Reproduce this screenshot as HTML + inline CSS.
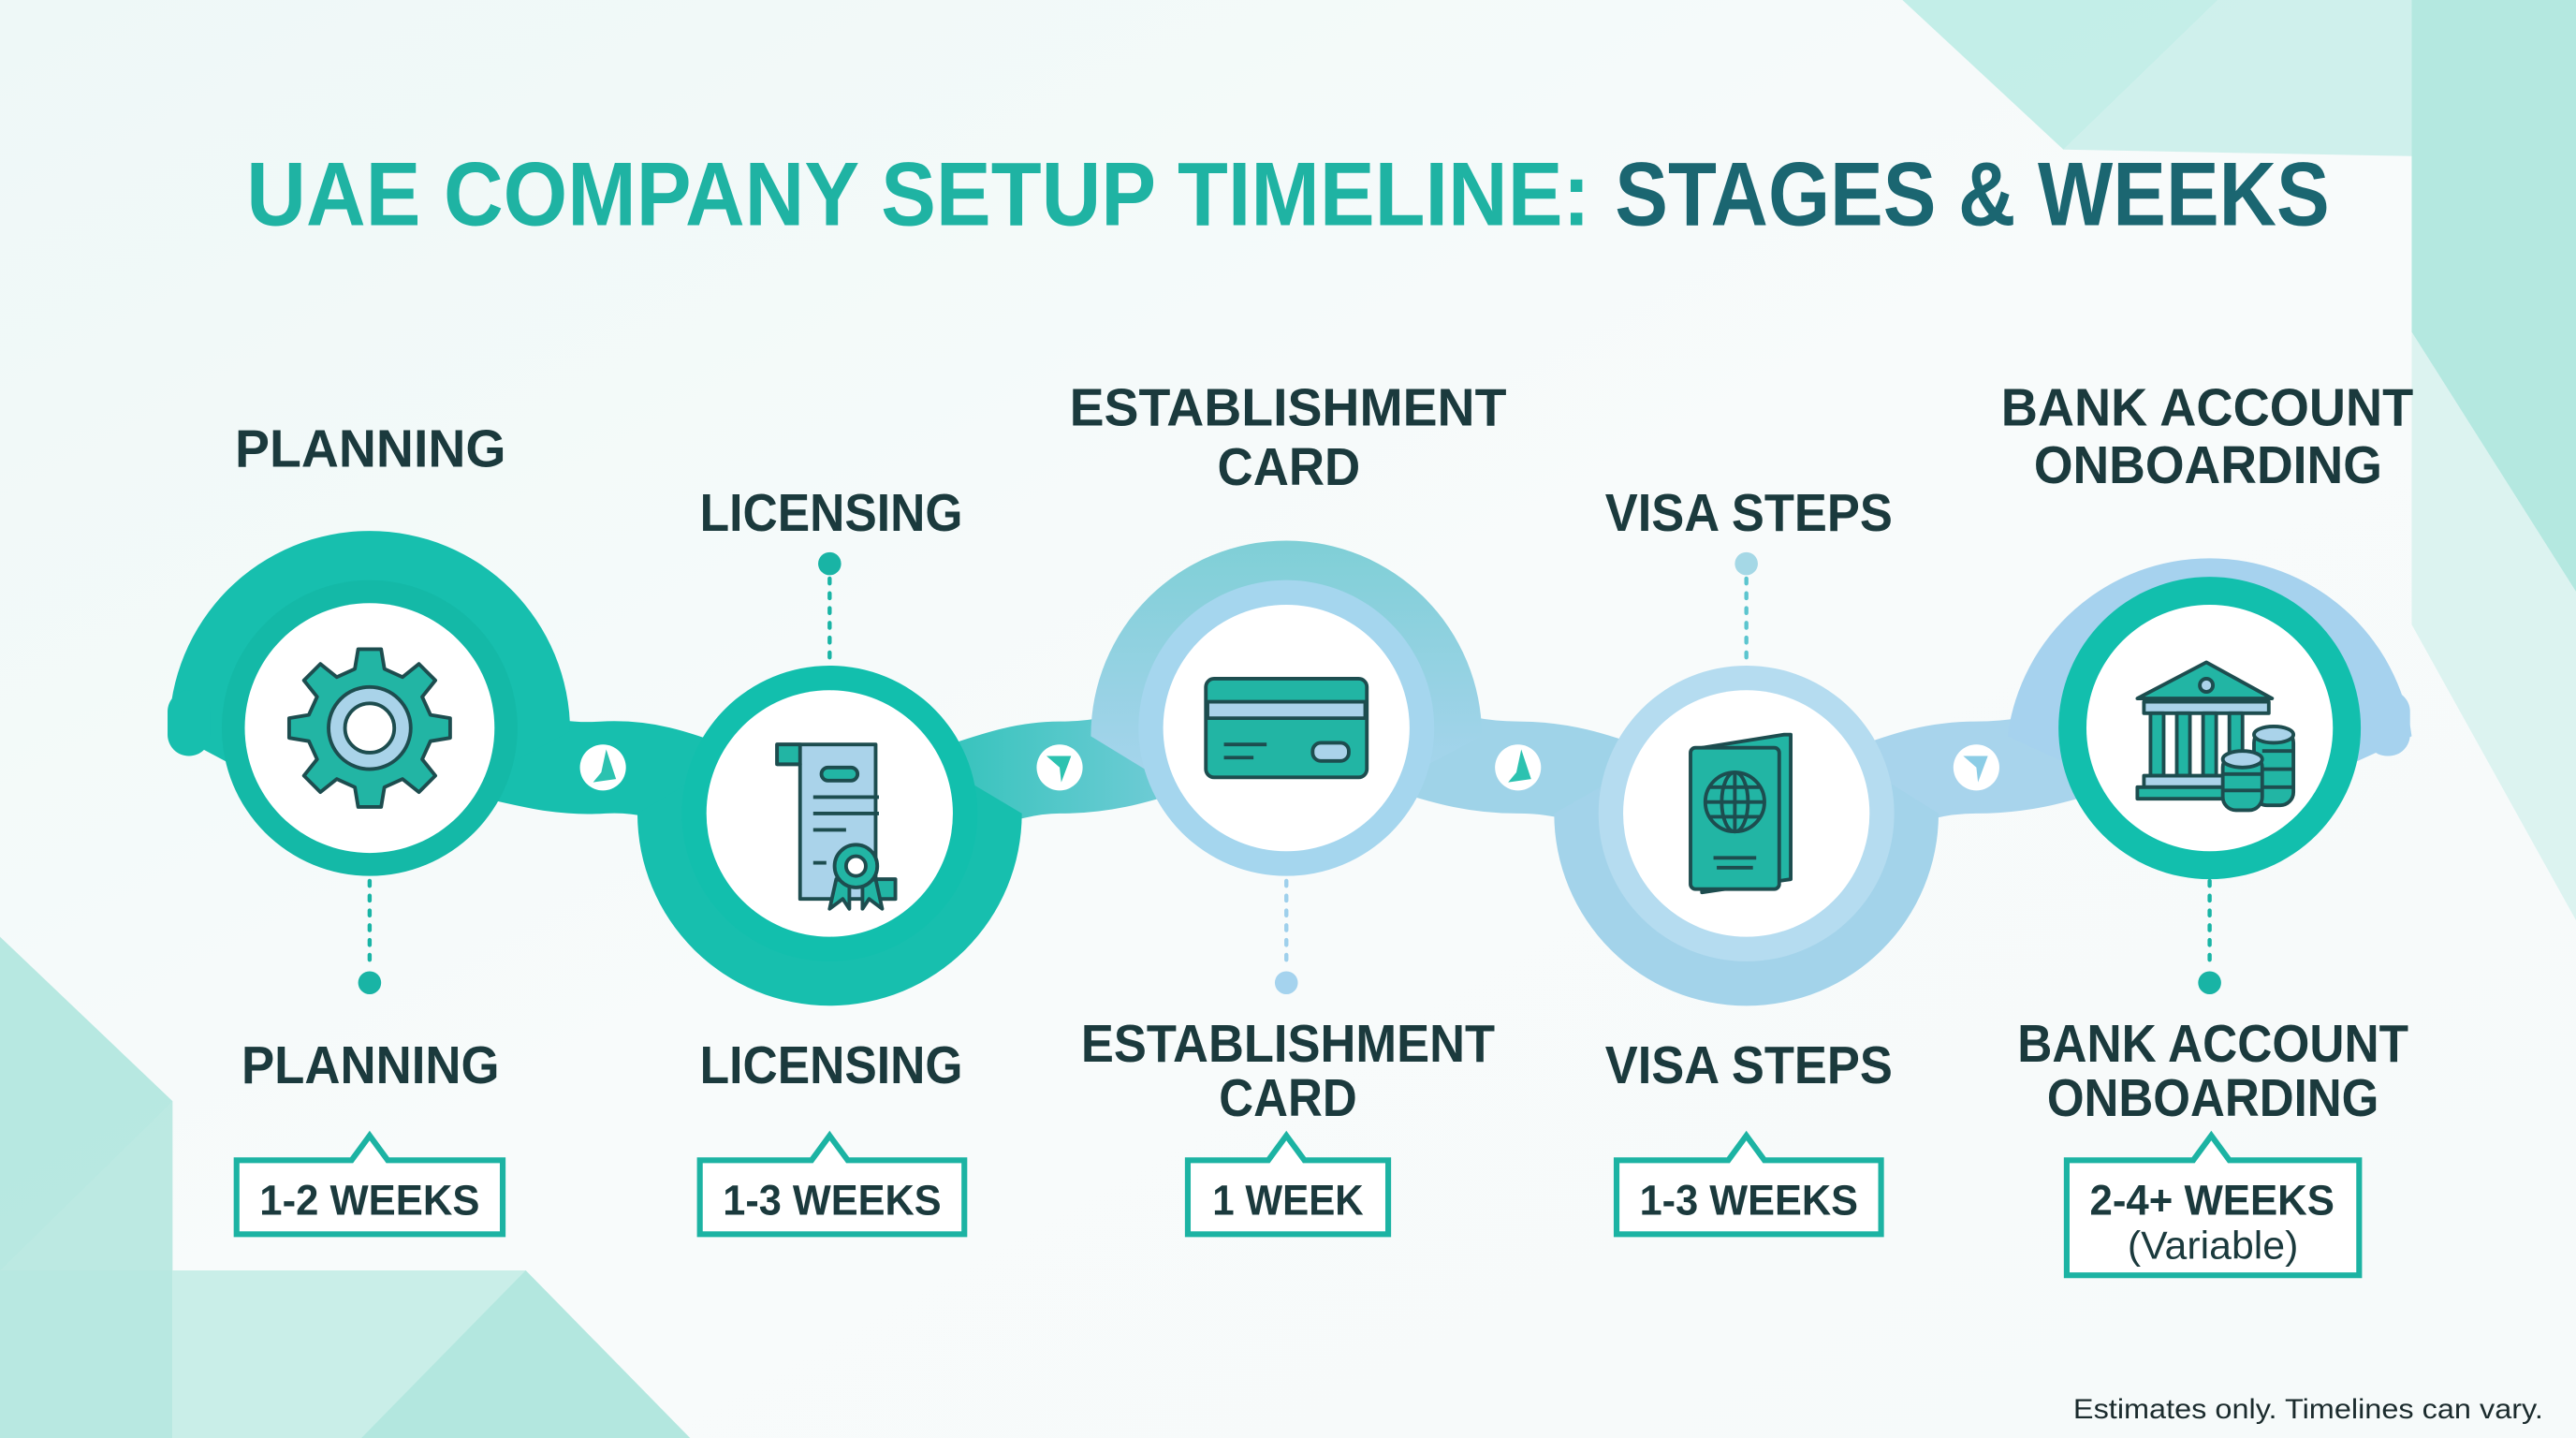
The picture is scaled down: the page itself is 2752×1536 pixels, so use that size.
<!DOCTYPE html>
<html><head><meta charset="utf-8"><style>
html,body{margin:0;padding:0;background:#f4f9f9;}
svg{display:block;}
text{font-family:"Liberation Sans",Arial,sans-serif;font-weight:bold;}
</style></head><body>
<svg width="2752" height="1536" viewBox="0 0 1568 875" preserveAspectRatio="none" xmlns="http://www.w3.org/2000/svg">
<defs>
<linearGradient id="bg" x1="0" y1="0" x2="1" y2="1"><stop offset="0" stop-color="#eef8f7"/><stop offset="0.5" stop-color="#f8fbfb"/><stop offset="1" stop-color="#f6fafa"/></linearGradient>
<linearGradient id="g23" x1="0" y1="0" x2="1" y2="0"><stop offset="0" stop-color="#17bfae"/><stop offset="1" stop-color="#8fd0e4"/></linearGradient>
<linearGradient id="gEst" x1="0" y1="0" x2="0" y2="1"><stop offset="0" stop-color="#7fcfd6"/><stop offset="1" stop-color="#a5d4ec"/></linearGradient>
</defs>
<rect width="1568" height="875" fill="url(#bg)"/>
<polygon points="1158,0 1256,91 1350,0" fill="#b7ebe4" opacity="0.8"/>
<polygon points="1256,91 1350,0 1468,0 1468,95" fill="#c4eee8" opacity="0.8"/>
<polygon points="1468,0 1568,0 1568,360 1468,202" fill="#a3e3da" opacity="0.8"/>
<polygon points="1468,202 1568,360 1568,560 1468,380" fill="#c9efe9" opacity="0.6"/>
<polygon points="0,570 105,670 105,875 0,875" fill="#a7e4db" opacity="0.8"/>
<polygon points="105,670 105,773 0,773" fill="#bfeae4" opacity="0.5"/>
<polygon points="105,773 320,773 420,875 105,875" fill="#bdebe4" opacity="0.8"/>
<polygon points="320,773 220,875 420,875" fill="#a9e4db" opacity="0.7"/>

<text x="150" y="137" font-size="55" fill="#1fb3a3" textLength="818" lengthAdjust="spacingAndGlyphs">UAE COMPANY SETUP TIMELINE:</text>
<text x="983" y="137" font-size="55" fill="#1b6671" textLength="435" lengthAdjust="spacingAndGlyphs">STAGES &amp; WEEKS</text>

<path d="M225,450 C300,450 320,470 367,467 C420,464 440,495 505,495" fill="none" stroke="#17bfae" stroke-width="56"/>
<path d="M505,495 C570,495 600,467 645,467 C700,467 720,443 783,443" fill="none" stroke="url(#g23)" stroke-width="56"/>
<path d="M783,443 C850,443 870,467 924,467 C980,467 1000,495 1063,495" fill="none" stroke="#9fd3e8" stroke-width="56"/>
<path d="M1063,495 C1130,495 1150,467 1203,467 C1260,467 1280,443 1345,443" fill="none" stroke="#a8d4ec" stroke-width="56"/>

<path d="M103,445 A122,122 0 0 1 347,445 L300,470 L150,470 Z" fill="#17bfae"/>
<rect x="102" y="420" width="26" height="40" rx="13" fill="#17bfae"/>
<path d="M388,495 A117,117 0 0 0 622,495 L580,470 L430,470 Z" fill="#17bfae"/>
<path d="M664,448 A119,119 0 0 1 902,448 L860,470 L700,470 Z" fill="url(#gEst)"/>
<path d="M946,495 A117,117 0 0 0 1180,495 L1140,470 L990,470 Z" fill="#a3d3ea"/>
<path d="M1222,448 A124,124 0 0 1 1468,448 L1420,470 L1270,470 Z" fill="#a6d2ee"/>
<rect x="1440" y="420" width="27" height="40" rx="13" fill="#a6d2ee"/>

<circle cx="225" cy="443" r="90" fill="#14b9a7"/><circle cx="225" cy="443" r="76" fill="#fff"/>
<circle cx="505" cy="495" r="90" fill="#12bfad"/><circle cx="505" cy="495" r="75" fill="#fff"/>
<circle cx="783" cy="443" r="90" fill="#a5d6ee"/><circle cx="783" cy="443" r="75" fill="#fff"/>
<circle cx="1063" cy="495" r="90" fill="#b5dcf0"/><circle cx="1063" cy="495" r="75" fill="#fff"/>
<circle cx="1345" cy="443" r="92" fill="#12bfad"/><circle cx="1345" cy="443" r="75" fill="#fff"/>

<g fill="#fff"><circle cx="367" cy="467" r="14"/><circle cx="645" cy="467" r="14"/><circle cx="924" cy="467" r="14"/><circle cx="1203" cy="467" r="14"/></g>
<g fill="#2cc2b0">
<polygon points="369,456 375,474 361,476 366,470"/>
<polygon points="637,460 652,460 646,476 645,467"/>
<polygon points="926,456 932,474 918,476 923,470"/>
<polygon points="1195,460 1210,460 1204,476 1203,467" fill="#8ccde6"/>
</g>

<g stroke-width="2.5" stroke-dasharray="3,6" stroke-linecap="round" fill="none">
<line x1="225" y1="536" x2="225" y2="590" stroke="#19b4a5"/>
<line x1="505" y1="352" x2="505" y2="405" stroke="#19b4a5"/>
<line x1="783" y1="536" x2="783" y2="590" stroke="#9fd0ec"/>
<line x1="1063" y1="352" x2="1063" y2="405" stroke="#5cc5cf"/>
<line x1="1345" y1="536" x2="1345" y2="590" stroke="#19b4a5"/>
</g>
<circle cx="225" cy="598" r="7" fill="#19b4a5"/>
<circle cx="505" cy="343" r="7" fill="#19b4a5"/>
<circle cx="783" cy="598" r="7" fill="#a5d3ee"/>
<circle cx="1063" cy="343" r="7" fill="#a5d8e6"/>
<circle cx="1345" cy="598" r="7" fill="#19b4a5"/>

<g stroke="#1d4d4f" stroke-width="2.2" stroke-linejoin="round">
<g transform="translate(225,443)">
<path fill="#22b5a4" d="M-7,-48 L7,-48 L9,-36 L20,-31 L30,-39 L40,-29 L32,-19 L37,-8 L49,-6 L49,6 L37,8 L32,19 L40,29 L30,39 L20,31 L9,36 L7,48 L-7,48 L-9,36 L-20,31 L-30,39 L-40,29 L-32,19 L-37,8 L-49,6 L-49,-6 L-37,-8 L-32,-19 L-40,-29 L-30,-39 L-20,-31 L-9,-36 Z"/>
<circle r="25" fill="#a9d3e9"/><circle r="15" fill="#fff"/>
</g>
<g transform="translate(505,495)">
<path fill="#aad3ea" d="M-32,-42 L28,-42 L28,40 L40,40 L40,52 L-18,52 L-18,-30 L-32,-30 Z"/>
<path fill="#22b5a4" d="M-32,-42 L-18,-42 L-18,-30 L-32,-30 Z"/>
<path fill="#22b5a4" d="M28,40 L40,40 L40,52 L28,52 Z"/>
<rect x="-5" y="-28" width="22" height="8" rx="4" fill="#22b5a4"/>
<line x1="-10" y1="-10" x2="30" y2="-10"/><line x1="-10" y1="0" x2="30" y2="0"/><line x1="-10" y1="10" x2="10" y2="10"/><line x1="-10" y1="30" x2="-2" y2="30"/>
<path fill="#22b5a4" d="M4,40 L0,58 L8,52 L12,58 L12,42 Z M20,42 L20,58 L24,52 L32,58 L28,40 Z"/>
<circle cx="16" cy="32" r="13" fill="#22b5a4"/><circle cx="16" cy="32" r="6" fill="#fff"/>
</g>
<g transform="translate(783,443)">
<rect x="-49" y="-30" width="98" height="60" rx="5" fill="#22b5a4"/>
<rect x="-48" y="-16" width="96" height="10" fill="#aad3ea"/>
<line x1="-38" y1="10" x2="-12" y2="10"/><line x1="-38" y1="18" x2="-20" y2="18"/>
<rect x="16" y="9" width="22" height="11" rx="5" fill="#aad3ea"/>
</g>
<g transform="translate(1063,495)">
<path fill="#22b5a4" d="M-27,-40 L23,-48 L27,-48 L27,40 L-27,48 Z"/>
<rect x="-34" y="-40" width="54" height="86" rx="3" fill="#22b5a4"/>
<circle cx="-7" cy="-7" r="18" fill="#22b5a4"/>
<ellipse cx="-7" cy="-7" rx="8" ry="18" fill="none"/><line x1="-25" y1="-7" x2="11" y2="-7"/><line x1="-22" y1="-16" x2="8" y2="-16"/><line x1="-22" y1="2" x2="8" y2="2"/><line x1="-7" y1="-25" x2="-7" y2="11"/>
<line x1="-20" y1="27" x2="6" y2="27"/><line x1="-18" y1="33" x2="4" y2="33"/>
</g>
<g transform="translate(1345,443)">
<path fill="#22b5a4" d="M-44,-18 L-2,-40 L38,-18 Z"/>
<circle cx="-2" cy="-26" r="4" fill="#aad3ea"/>
<rect x="-40" y="-16" width="76" height="7" fill="#aad3ea"/>
<rect x="-36" y="-9" width="8" height="38" fill="#22b5a4"/><rect x="-20" y="-9" width="8" height="38" fill="#22b5a4"/><rect x="-4" y="-9" width="8" height="38" fill="#22b5a4"/><rect x="12" y="-9" width="8" height="38" fill="#22b5a4"/>
<rect x="-40" y="29" width="70" height="7" fill="#aad3ea"/><rect x="-44" y="36" width="60" height="7" fill="#22b5a4"/>
<g fill="#22b5a4"><rect x="27" y="1" width="24" height="46" rx="8"/><ellipse cx="39" cy="4" rx="12" ry="5" fill="#aad3ea"/>
<rect x="8" y="16" width="24" height="34" rx="8"/><ellipse cx="20" cy="19" rx="12" ry="5" fill="#aad3ea"/></g>
<line x1="8" y1="28" x2="32" y2="28"/><line x1="8" y1="38" x2="32" y2="38"/><line x1="32" y1="14" x2="51" y2="14"/><line x1="32" y1="25" x2="51" y2="25"/><line x1="32" y1="36" x2="51" y2="36"/>
</g>
</g>

<g fill="#1b3a3d" font-size="32">
<text x="143" y="284" textLength="165" lengthAdjust="spacingAndGlyphs">PLANNING</text>
<text x="426" y="323" textLength="160" lengthAdjust="spacingAndGlyphs">LICENSING</text>
<text x="651" y="259" textLength="266" lengthAdjust="spacingAndGlyphs">ESTABLISHMENT</text>
<text x="741" y="295" textLength="87" lengthAdjust="spacingAndGlyphs">CARD</text>
<text x="977" y="323" textLength="175" lengthAdjust="spacingAndGlyphs">VISA STEPS</text>
<text x="1218" y="259" textLength="251" lengthAdjust="spacingAndGlyphs">BANK ACCOUNT</text>
<text x="1238" y="294" textLength="212" lengthAdjust="spacingAndGlyphs">ONBOARDING</text>
<text x="147" y="659" textLength="157" lengthAdjust="spacingAndGlyphs">PLANNING</text>
<text x="426" y="659" textLength="160" lengthAdjust="spacingAndGlyphs">LICENSING</text>
<text x="658" y="646" textLength="252" lengthAdjust="spacingAndGlyphs">ESTABLISHMENT</text>
<text x="742" y="679" textLength="84" lengthAdjust="spacingAndGlyphs">CARD</text>
<text x="977" y="659" textLength="175" lengthAdjust="spacingAndGlyphs">VISA STEPS</text>
<text x="1228" y="646" textLength="238" lengthAdjust="spacingAndGlyphs">BANK ACCOUNT</text>
<text x="1246" y="679" textLength="202" lengthAdjust="spacingAndGlyphs">ONBOARDING</text>
</g>

<g fill="#fff" stroke="#1cb3a3" stroke-width="3.5">
<path d="M144,706 L214,706 L225,691 L236,706 L306,706 L306,751 L144,751 Z"/>
<path d="M426,706 L494,706 L505,691 L516,706 L587,706 L587,751 L426,751 Z"/>
<path d="M723,706 L772,706 L783,691 L794,706 L845,706 L845,751 L723,751 Z"/>
<path d="M984,706 L1052,706 L1063,691 L1074,706 L1145,706 L1145,751 L984,751 Z"/>
<path d="M1258,706 L1335,706 L1346,691 L1357,706 L1436,706 L1436,776 L1258,776 Z"/>
</g>
<g fill="#1b3a3d" font-size="26">
<text x="158" y="739" textLength="134" lengthAdjust="spacingAndGlyphs">1-2 WEEKS</text>
<text x="440" y="739" textLength="133" lengthAdjust="spacingAndGlyphs">1-3 WEEKS</text>
<text x="738" y="739" textLength="92" lengthAdjust="spacingAndGlyphs">1 WEEK</text>
<text x="998" y="739" textLength="133" lengthAdjust="spacingAndGlyphs">1-3 WEEKS</text>
<text x="1272" y="739" textLength="149" lengthAdjust="spacingAndGlyphs">2-4+ WEEKS</text>
<text x="1295" y="766" textLength="104" lengthAdjust="spacingAndGlyphs" font-size="24" style="font-weight:normal">(Variable)</text>
</g>
<text x="1262" y="863" font-size="17" fill="#1b2b2d" textLength="286" lengthAdjust="spacingAndGlyphs" style="font-weight:normal">Estimates only. Timelines can vary.</text>
</svg>
</body></html>
